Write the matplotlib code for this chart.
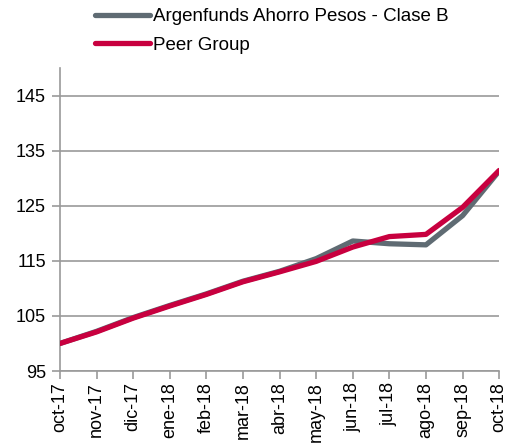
import matplotlib.pyplot as plt

plt.rcParams['font.family'] = ['Liberation Sans', 'DejaVu Sans']

months = ['oct-17', 'nov-17', 'dic-17', 'ene-18', 'feb-18', 'mar-18', 'abr-18',
          'may-18', 'jun-18', 'jul-18', 'ago-18', 'sep-18', 'oct-18']
fund = [100.0, 102.2, 104.7, 106.9, 109.0, 111.3, 113.1, 115.4, 118.6, 118.1, 117.9, 123.2, 131.3]
peer = [100.0, 102.1, 104.6, 106.8, 108.9, 111.2, 113.0, 114.9, 117.5, 119.4, 119.8, 124.7, 131.4]
yticks = [95, 105, 115, 125, 135, 145]

grid_col = '#9a9a9a'

fig = plt.figure(figsize=(5.26, 4.43), dpi=100)
ax = fig.add_axes([0.114, 0.1625, 0.835, 0.684])

x = list(range(len(months)))
ax.plot(x, fund, color='#5f6b73', lw=3.8, solid_capstyle='round', solid_joinstyle='round',
        label='Argenfunds Ahorro Pesos - Clase B', zorder=3)
ax.plot(x, peer, color='#c8003f', lw=3.8, solid_capstyle='round', solid_joinstyle='round',
        label='Peer Group', zorder=4)

ax.set_xlim(0, len(months) - 1)
ax.set_ylim(95, 150)
ax.set_yticks(yticks)
ax.set_xticks(x)
ax.set_xticklabels(months, rotation=90)
ax.grid(axis='y', color=grid_col, lw=1.2)
ax.set_axisbelow(True)

for s in ['top', 'right']:
    ax.spines[s].set_visible(False)
for s in ['left', 'bottom']:
    ax.spines[s].set_color(grid_col)
    ax.spines[s].set_linewidth(1.2)
ax.tick_params(axis='both', colors=grid_col, labelcolor='black', labelsize=13,
               length=6, width=1.2)
ax.tick_params(axis='x', pad=2)
ax.tick_params(axis='y', pad=4)

fig.legend(loc='upper left', bbox_to_anchor=(95 / 526, 1 - 8 / 443), frameon=False, fontsize=13.5,
           handlelength=2.95, handletextpad=0.12, labelspacing=0.6, borderpad=0,
           borderaxespad=0)

fig.savefig('out.png', dpi=100)
